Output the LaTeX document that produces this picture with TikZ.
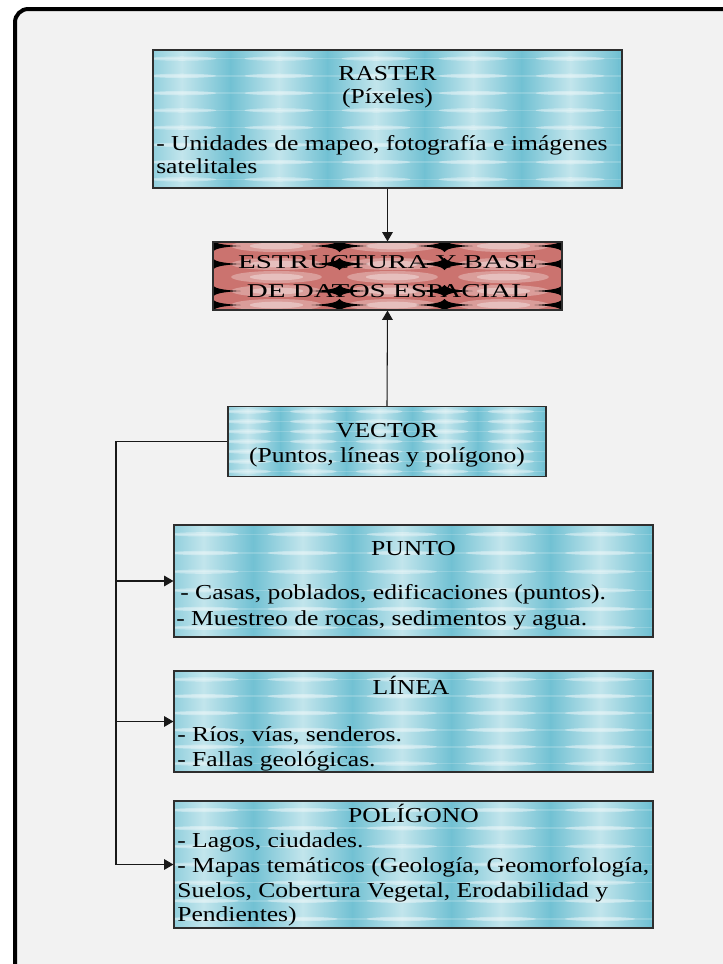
\documentclass[tikz,border=0pt]{standalone}
\usepackage{fontspec}
\setmainfont{Liberation Serif}
\newfontfamily\boxfont{Liberation Serif}[FakeStretch=1.2]
\newfontfamily\redboxfont{Liberation Serif}[FakeStretch=1.48]
\usetikzlibrary{arrows.meta,calc}

\definecolor{pagebg}{HTML}{F2F2F2}
\definecolor{bandDark}{HTML}{72C1D3}
\definecolor{bandLight}{HTML}{C2E5EC}
\definecolor{redBase}{HTML}{CB736F}
\definecolor{edgegray}{HTML}{2E2E2E}

% blue woven texture: #1 width, #2 height (px), #3 number of streak rows
\newcommand\bluetexture[3]{%
  \coordinate (pc) at (path picture bounding box.center);
  \fill[bandDark] (path picture bounding box.south west) rectangle (path picture bounding box.north east);
  \foreach \a/\b in {-0.249/-0.042,-0.042/0.165,0.165/0.372,0.372/0.579,0.579/0.786,0.786/0.993,0.993/1.2}{
    \shade[left color=bandDark, right color=bandDark, middle color=bandLight]
      ($(pc)+({(\a-0.5)*#1},{-#2/2})$) rectangle ($(pc)+({(\b-0.5)*#1},{#2/2})$);
  }
  \foreach \j in {1,...,#3}{
    \fill[white, opacity=0.18]
      ($(pc)+({-#1/2},{(\j-0.5)*#2/#3-#2/2-0.8})$) rectangle ++(#1,1.6);
    \foreach \c in {0.0615,0.2685,0.4755,0.6825,0.8895}{
      \fill[white, opacity=0.35]
        ($(pc)+({(\c-0.5)*#1},{(\j-0.5)*#2/#3-#2/2})$)
        ellipse [x radius={0.055*#1*1pt}, y radius=1.6pt];
    }
  }
}

% one black lens of the red texture, offset (#1,#2) from the centre (pc)
\newcommand\redlens[2]{%
  \fill[black] ($(pc)+(#1-28,#2)$)
    .. controls ($(pc)+(#1-8,#2-1)$) and ($(pc)+(#1-2,#2-3)$) .. ($(pc)+(#1,#2-6)$)
    .. controls ($(pc)+(#1+2,#2-3)$) and ($(pc)+(#1+8,#2-1)$) .. ($(pc)+(#1+28,#2)$)
    .. controls ($(pc)+(#1+8,#2+1)$) and ($(pc)+(#1+2,#2+3)$) .. ($(pc)+(#1,#2+6)$)
    .. controls ($(pc)+(#1-2,#2+3)$) and ($(pc)+(#1-8,#2+1)$) .. ($(pc)+(#1-28,#2)$) -- cycle;
}

\newcommand\redtexture{%
  \coordinate (pc) at (path picture bounding box.center);
  \fill[redBase] (path picture bounding box.south west) rectangle (path picture bounding box.north east);
  \foreach \dx in {-111,5,116}{
    \foreach \dy in {-30,-12,1,15,29}{
      \fill[white, opacity=0.3] ($(pc)+(\dx,\dy)$) ellipse [x radius=34pt, y radius=4.5pt];
      \fill[white, opacity=0.35] ($(pc)+(\dx,\dy)$) ellipse [x radius=20pt, y radius=2.5pt];
    }
  }
  \foreach \lx in {-175,-48,57,175}{
    \foreach \ly in {-30,-12,15,29}{
      \redlens{\lx}{\ly}
    }
  }
}

\tikzset{
  bluebox/.style n args={3}{draw=edgegray, line width=0.9pt, rectangle, inner sep=0pt,
    minimum width=#1*0.75pt, minimum height=#2*0.75pt,
    path picture={\bluetexture{#1}{#2}{#3}}},
  redbox/.style 2 args={draw=edgegray, line width=0.9pt, rectangle, inner sep=0pt,
    minimum width=#1*0.75pt, minimum height=#2*0.75pt,
    path picture={\redtexture}},
  txt/.style={inner sep=0pt, anchor=base, font=\boxfont\fontsize{16}{18}\selectfont},
  txtl/.style={txt, anchor=base west},
  redtxt/.style={inner sep=0pt, anchor=base, font=\redboxfont\fontsize{14.7}{18}\selectfont},
  link/.style={draw=black!90, line width=0.8pt},
  arrowlink/.style={link, -{Triangle[length=7pt, width=8pt]}},
  frame/.style={draw=black, line width=3pt, fill=pagebg, rounded corners=10pt}
}

\begin{document}
\begin{tikzpicture}[x=0.75pt, y=-0.75pt]
  \clip (0,0) rectangle (723,964);
  \fill[white] (0,0) rectangle (723,964);
  \draw[frame] (15,9) rectangle (800,1100);

  % boxes
  \node[bluebox={469}{138}{8}] (raster) at (387.5,119) {};
  \node[redbox={349}{68}] (estructura) at (387.5,276) {};
  \node[bluebox={318}{70}{7}] (vector) at (387,441.5) {};
  \node[bluebox={479}{112}{6}] (punto) at (413.5,581) {};
  \node[bluebox={479}{101}{6}] (linea) at (413.5,721.5) {};
  \node[bluebox={479}{127}{7}] (poligono) at (413.5,864.5) {};

  % texts
  \node[txt] (rasterT) at (387.5,80) {RASTER};
  \node[txt] (rasterS) at (387.5,103) {(Píxeles)};
  \node[txtl] (rasterA) at (156,150) {- Unidades de mapeo, fotografía e imágenes};
  \node[txtl] (rasterB) at (156,173) {satelitales};

  \node[redtxt] (estrA) at (388,268) {ESTRUCTURA Y BASE};
  \node[redtxt] (estrB) at (388,297) {DE DATOS ESPACIAL};

  \node[txt] (vectorT) at (387,437) {VECTOR};
  \node[txt] (vectorS) at (387,462) {(Puntos, líneas y polígono)};

  \node[txt] (puntoT) at (413.5,555) {PUNTO};
  \node[txtl] (puntoA) at (180,599) {- Casas, poblados, edificaciones (puntos).};
  \node[txtl] (puntoB) at (176,625) {- Muestreo de rocas, sedimentos y agua.};

  \node[txt] (lineaT) at (411,694) {LÍNEA};
  \node[txtl] (lineaA) at (177,741) {- Ríos, vías, senderos.};
  \node[txtl] (lineaB) at (177,766) {- Fallas geológicas.};

  \node[txt] (poligonoT) at (413.5,822) {POLÍGONO};
  \node[txtl] (poligonoA) at (177,847) {- Lagos, ciudades.};
  \node[txtl] (poligonoB) at (177,872) {- Mapas temáticos (Geología, Geomorfología,};
  \node[txtl] (poligonoC) at (177,897) {Suelos, Cobertura Vegetal, Erodabilidad y};
  \node[txtl] (poligonoD) at (177,921) {Pendientes)};

  % connectors
  \draw[arrowlink] (raster.south) -- (estructura.north);
  \draw[arrowlink] (vector.north) -- (estructura.south);
  \coordinate (bus) at (116,441.5);
  \draw[arrowlink] (vector.west) -- (bus) |- (poligono.west);
  \draw[arrowlink] (bus |- punto.west) -- (punto.west);
  \draw[arrowlink] (bus |- linea.west) -- (linea.west);
\end{tikzpicture}
\end{document}
